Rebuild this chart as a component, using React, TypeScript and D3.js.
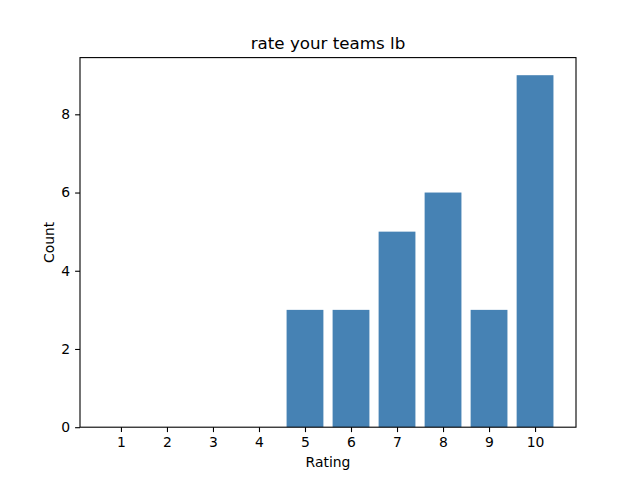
import React, { useEffect, useRef } from 'react'
import * as d3 from 'd3'

const ratings: number[] = [1, 2, 3, 4, 5, 6, 7, 8, 9, 10]
const counts: number[] = [0, 0, 0, 0, 3, 3, 5, 6, 3, 9]
const yTicks: number[] = [0, 2, 4, 6, 8]
const title = 'rate your teams lb'
const xLabel = 'Rating'
const yLabel = 'Count'

const App: React.FC = () => {
    const svgRef = useRef<SVGSVGElement | null>(null)

    useEffect(() => {
        if (!svgRef.current) return

        const width = 640
        const height = 480
        const margin = { top: 57.6, right: 64, bottom: 52.8, left: 80 }
        const font = 'DejaVu Sans, sans-serif'

        const svg = d3.select(svgRef.current)
        svg.selectAll('*').remove()
        svg.attr('width', width).attr('height', height)

        svg.append('rect').attr('width', width).attr('height', height).attr('fill', '#fff')

        const x0 = d3.min(ratings)! - 0.4
        const x1 = d3.max(ratings)! + 0.4
        const pad = (x1 - x0) * 0.05
        const x = d3
            .scaleLinear()
            .domain([x0 - pad, x1 + pad])
            .range([margin.left, width - margin.right])

        const y = d3
            .scaleLinear()
            .domain([0, d3.max(counts)! * 1.05])
            .range([height - margin.bottom, margin.top])

        // bars
        svg.append('g')
            .selectAll('rect')
            .data(ratings)
            .join('rect')
            .attr('x', (d) => x(d - 0.4))
            .attr('width', (d) => x(d + 0.4) - x(d - 0.4))
            .attr('y', (_, i) => y(counts[i]))
            .attr('height', (_, i) => y(0) - y(counts[i]))
            .attr('fill', '#4682b4')

        // frame
        svg.append('rect')
            .attr('x', margin.left)
            .attr('y', margin.top)
            .attr('width', width - margin.left - margin.right)
            .attr('height', height - margin.top - margin.bottom)
            .attr('fill', 'none')
            .attr('stroke', '#000')
            .attr('stroke-width', 1.1)

        // x axis
        const xAxis = d3
            .axisBottom(x)
            .tickValues(ratings)
            .tickFormat((d) => String(d))
            .tickSize(4.9)
            .tickPadding(4.9)
            .tickSizeOuter(0)
        const gx = svg
            .append('g')
            .attr('transform', `translate(0,${height - margin.bottom})`)
            .call(xAxis)
        gx.select('.domain').remove()
        gx.selectAll('line').attr('stroke', '#000').attr('stroke-width', 1.1)
        gx.selectAll('text')
            .attr('font-family', font)
            .attr('font-size', 13.9)
            .attr('fill', '#000')

        // y axis
        const yAxis = d3
            .axisLeft(y)
            .tickValues(yTicks)
            .tickFormat((d) => String(d))
            .tickSize(4.9)
            .tickPadding(4.9)
            .tickSizeOuter(0)
        const gy = svg
            .append('g')
            .attr('transform', `translate(${margin.left},0)`)
            .call(yAxis)
        gy.select('.domain').remove()
        gy.selectAll('line').attr('stroke', '#000').attr('stroke-width', 1.1)
        gy.selectAll('text')
            .attr('font-family', font)
            .attr('font-size', 13.9)
            .attr('fill', '#000')

        // labels
        svg.append('text')
            .attr('x', (margin.left + width - margin.right) / 2)
            .attr('y', 49)
            .attr('text-anchor', 'middle')
            .attr('font-family', font)
            .attr('font-size', 16.7)
            .text(title)

        svg.append('text')
            .attr('x', (margin.left + width - margin.right) / 2)
            .attr('y', 467)
            .attr('text-anchor', 'middle')
            .attr('font-family', font)
            .attr('font-size', 13.9)
            .text(xLabel)

        svg.append('text')
            .attr('transform', `translate(54,${(margin.top + height - margin.bottom) / 2}) rotate(-90)`)
            .attr('text-anchor', 'middle')
            .attr('font-family', font)
            .attr('font-size', 13.9)
            .text(yLabel)
    }, [])

    return (
        <svg
            ref={svgRef}
            style={{ position: 'absolute', left: 0, top: 0, display: 'block' }}
        />
    )
}

export default App
